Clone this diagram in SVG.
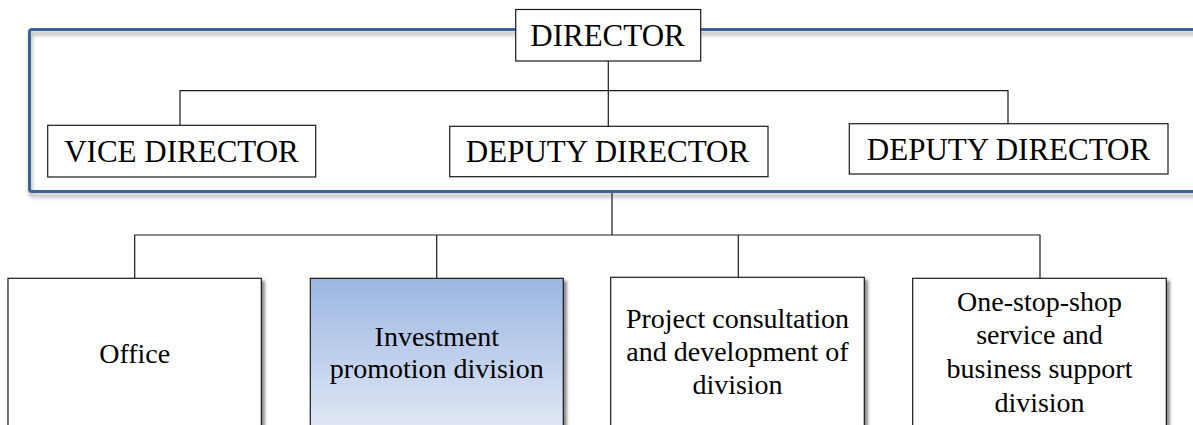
<svg xmlns="http://www.w3.org/2000/svg" width="1193" height="425" viewBox="0 0 1193 425">
  <style>
    .box { fill: #ffffff; stroke: #1a1a1a; stroke-width: 1.2; }
    .conn { fill: none; stroke: #1a1a1a; stroke-width: 1.2; }
    text { font-family: 'Liberation Serif', 'DejaVu Serif', serif; fill: #000; text-anchor: middle; }
    .big { font-size: 31px; }
    .small { font-size: 28px; }
  </style>
  <defs>
    <filter id="frameShadow" x="-5%" y="-20%" width="110%" height="140%">
      <feDropShadow dx="1" dy="4" stdDeviation="2" flood-color="#000" flood-opacity="0.35"/>
    </filter>
    <filter id="boxShadow" x="-10%" y="-10%" width="120%" height="120%">
      <feDropShadow dx="3" dy="3" stdDeviation="1.5" flood-color="#000" flood-opacity="0.45"/>
    </filter>
    <linearGradient id="blueGrad" gradientUnits="userSpaceOnUse" x1="0" y1="278" x2="0" y2="430">
      <stop offset="0" stop-color="#9bb6e2"/>
      <stop offset="1" stop-color="#e1e8f5"/>
    </linearGradient>
  </defs>

  <rect width="1193" height="425" fill="#ffffff"/>

  <!-- blue frame -->
  <g id="frame">
    <path d="M1200 29.5 H32 Q29.5 29.5 29.5 32 V189 Q29.5 191.5 32 191.5 H1200" fill="none" stroke="#3e6497" stroke-width="3" filter="url(#frameShadow)"/>
  </g>

  <!-- connectors -->
  <g id="connectors">
    <line class="conn" x1="608.3" y1="61" x2="608.3" y2="126.3"/>
    <polyline class="conn" points="180,125.3 180,90.7 1008,90.7 1008,123.7"/>
    <line class="conn" x1="612" y1="193" x2="612" y2="235" stroke-width="1.8"/>
    <polyline class="conn" points="134.7,278.3 134.7,235 1040,235 1040,278.3"/>
    <line class="conn" x1="436.7" y1="235" x2="436.7" y2="278.3"/>
    <line class="conn" x1="738.3" y1="235" x2="738.3" y2="277.3"/>
  </g>

  <g id="director">
    <rect class="box" x="515.7" y="9.5" width="185" height="51.5"/>
    <text class="big" x="607.5" y="45.7" font-family="Liberation Serif">DIRECTOR</text>
  </g>

  <g id="vice-director">
    <rect class="box" x="47.7" y="125.3" width="268" height="51.7"/>
    <text class="big" x="181.5" y="162.3">VICE DIRECTOR</text>
  </g>

  <g id="deputy-director-1">
    <rect class="box" x="449.7" y="126.3" width="318.3" height="50.4"/>
    <text class="big" x="607.5" y="161.7">DEPUTY DIRECTOR</text>
  </g>

  <g id="deputy-director-2">
    <rect class="box" x="849.3" y="123.7" width="318.7" height="50.3"/>
    <text class="big" x="1008.5" y="160">DEPUTY DIRECTOR</text>
  </g>

  <g id="office">
    <rect class="box" x="8" y="278.3" width="253.3" height="160" filter="url(#boxShadow)"/>
    <text class="small" x="134.7" y="362.7">Office</text>
  </g>

  <g id="investment">
    <rect x="310.3" y="278.3" width="253" height="160" fill="url(#blueGrad)" stroke="#1a1a1a" stroke-width="1.2" filter="url(#boxShadow)"/>
    <text class="small" x="436.8" y="346">Investment</text>
    <text class="small" x="436.8" y="378.3">promotion division</text>
  </g>

  <g id="project">
    <rect class="box" x="610.7" y="277.3" width="253.6" height="160" filter="url(#boxShadow)"/>
    <text class="small" x="737.5" y="328.3">Project consultation</text>
    <text class="small" x="737.5" y="361">and development of</text>
    <text class="small" x="737.5" y="394">division</text>
  </g>

  <g id="one-stop">
    <rect class="box" x="912.7" y="278.3" width="253.6" height="160" filter="url(#boxShadow)"/>
    <text class="small" x="1039.5" y="310.7">One-stop-shop</text>
    <text class="small" x="1039.5" y="344.3">service and</text>
    <text class="small" x="1039.5" y="378.3">business support</text>
    <text class="small" x="1039.5" y="411.7">division</text>
  </g>
</svg>
